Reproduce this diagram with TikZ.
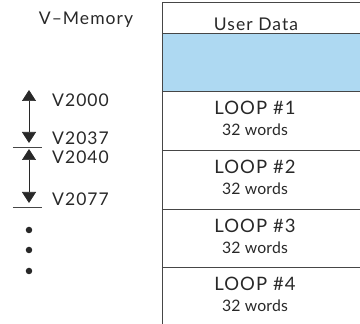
\documentclass[tikz,border=0pt]{standalone}
\usepackage{fontspec}
\setmainfont{Lato}
\newfontfamily\spfont[LetterSpace=6]{Lato}
\newfontfamily\spfontb[LetterSpace=1]{Lato}
\usetikzlibrary{arrows.meta}
\definecolor{rowblue}{RGB}{174,217,242}
\definecolor{ink}{RGB}{40,40,40}
\definecolor{rule}{RGB}{70,70,70}
\tikzset{
  rowline/.style={draw=rule, line width=0.9pt},
  bigtxt/.style={text=ink, font=\spfont\fontsize{18.5}{20}\selectfont, inner sep=0pt},
  headtxt/.style={text=ink, font=\spfont\fontsize{17.5}{19}\selectfont, inner sep=0pt},
  smalltxt/.style={text=ink, font=\spfontb\fontsize{15.8}{17}\selectfont, inner sep=0pt},
  lbltxt/.style={text=ink, font=\spfont\fontsize{17.5}{19}\selectfont, inner sep=0pt, anchor=west},
  spanarrow/.style={draw=ink, line width=0.7pt, {Triangle[width=14pt,length=11pt]}-{Triangle[width=14pt,length=11pt]}},
  tick/.style={draw=rule, line width=0.9pt},
  dotmark/.style={circle, fill=ink, inner sep=0pt, minimum size=6.5pt}
}
\begin{document}
\begin{tikzpicture}[x=1pt,y=-1pt]
\useasboundingbox (0,0) rectangle (360,324);
% blue band
\fill[rowblue] (162,33) rectangle (360,91);
% table lines
\draw[rowline] (162,324) -- (162,2) -- (360,2);
\foreach \yy in {33,91,150,209,267} \draw[rowline] (162,\yy) -- (360,\yy);
% header texts
\node[headtxt] (vmem) at (86,19.5) {V–Memory};
\node[headtxt] (user) at (256,24) {User Data};
% loops
\node[bigtxt] (l1) at (255,108) {LOOP \#1};
\node[smalltxt] (w1) at (255,129.5) {32 words};
\node[bigtxt] (l2) at (255,167) {LOOP \#2};
\node[smalltxt] (w2) at (255,188.5) {32 words};
\node[bigtxt] (l3) at (255,226) {LOOP \#3};
\node[smalltxt] (w3) at (255,247.5) {32 words};
\node[bigtxt] (l4) at (255,284) {LOOP \#4};
\node[smalltxt] (w4) at (255,305.5) {32 words};
% left side
\coordinate (a1t) at (29,90);
\coordinate (a1b) at (29,143);
\coordinate (a2t) at (29,149);
\coordinate (a2b) at (29,203);
\draw[spanarrow] (a1t) -- (a1b);
\draw[spanarrow] (a2t) -- (a2b);
\coordinate (t1l) at (13,147);
\coordinate (t1r) at (42,147);
\coordinate (t2l) at (13,207);
\coordinate (t2r) at (42,207);
\draw[tick] (t1l) -- (t1r);
\draw[tick] (t2l) -- (t2r);
\node[lbltxt] (v2000) at (52,100) {V2000};
\node[lbltxt] (v2037) at (52,138) {V2037};
\node[lbltxt] (v2040) at (52,157) {V2040};
\node[lbltxt] (v2077) at (52,199) {V2077};
\node[dotmark] (d1) at (29,230) {};
\node[dotmark] (d2) at (29,250) {};
\node[dotmark] (d3) at (29,271) {};
\end{tikzpicture}
\end{document}
